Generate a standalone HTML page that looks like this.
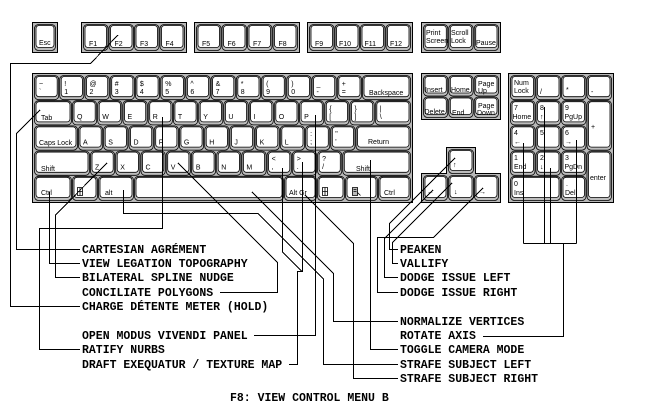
<!DOCTYPE html>
<html><head><meta charset="utf-8"><style>
html,body{margin:0;padding:0;background:#fff;}
svg{display:block}
.g{fill:#b8b8b8;stroke:#000;stroke-width:1}
.o{fill:#bdbdbd;stroke:#000;stroke-width:.8}
.i{fill:#fff;stroke:#000;stroke-width:.8}
.k{font-family:"Liberation Sans",sans-serif;font-size:7px;fill:#000}
.l{font-family:"Liberation Mono",monospace;font-weight:bold;font-size:11.5px;fill:#000}
.c{fill:none;stroke:#000;stroke-width:1}
</style></head><body>
<svg width="650" height="411" viewBox="0 0 650 411" xmlns="http://www.w3.org/2000/svg">
<rect x="0" y="0" width="650" height="411" fill="#fff"/>
<!-- group frames -->
<rect class="g" x="32.5" y="22.5" width="25" height="30"/>
<rect class="g" x="81.5" y="22.5" width="105" height="30"/>
<rect class="g" x="194.5" y="22.5" width="105" height="30"/>
<rect class="g" x="307.5" y="22.5" width="105" height="30"/>
<rect class="g" x="421.5" y="22.5" width="79" height="30"/>
<rect class="g" x="32.5" y="73.5" width="380" height="129"/>
<rect class="g" x="421.5" y="73.5" width="79" height="46"/>
<polygon class="g" points="446.5,147.5 475.5,147.5 475.5,173.5 500.5,173.5 500.5,202.5 421.5,202.5 421.5,173.5 446.5,173.5"/>
<rect class="g" x="508.5" y="73.5" width="105" height="129"/>

<!-- function row -->
<rect class="o" x="34.5" y="24.5" width="21" height="26" rx="4"/><rect class="i" x="36" y="25.5" width="18" height="22" rx="3"/>
<rect class="o" x="83.5" y="24.5" width="24.5" height="26" rx="4"/><rect class="i" x="85" y="25.5" width="21.5" height="22" rx="3"/>
<rect class="o" x="109" y="24.5" width="24.5" height="26" rx="4"/><rect class="i" x="110.5" y="25.5" width="21.5" height="22" rx="3"/>
<rect class="o" x="134.5" y="24.5" width="24.5" height="26" rx="4"/><rect class="i" x="136" y="25.5" width="21.5" height="22" rx="3"/>
<rect class="o" x="160" y="24.5" width="24.5" height="26" rx="4"/><rect class="i" x="161.5" y="25.5" width="21.5" height="22" rx="3"/>
<rect class="o" x="196.5" y="24.5" width="24.5" height="26" rx="4"/><rect class="i" x="198" y="25.5" width="21.5" height="22" rx="3"/>
<rect class="o" x="222" y="24.5" width="24.5" height="26" rx="4"/><rect class="i" x="223.5" y="25.5" width="21.5" height="22" rx="3"/>
<rect class="o" x="247.5" y="24.5" width="24.5" height="26" rx="4"/><rect class="i" x="249" y="25.5" width="21.5" height="22" rx="3"/>
<rect class="o" x="273" y="24.5" width="24.5" height="26" rx="4"/><rect class="i" x="274.5" y="25.5" width="21.5" height="22" rx="3"/>
<rect class="o" x="309.5" y="24.5" width="24.5" height="26" rx="4"/><rect class="i" x="311" y="25.5" width="21.5" height="22" rx="3"/>
<rect class="o" x="335" y="24.5" width="24.5" height="26" rx="4"/><rect class="i" x="336.5" y="25.5" width="21.5" height="22" rx="3"/>
<rect class="o" x="360.5" y="24.5" width="24.5" height="26" rx="4"/><rect class="i" x="362" y="25.5" width="21.5" height="22" rx="3"/>
<rect class="o" x="386" y="24.5" width="24.5" height="26" rx="4"/><rect class="i" x="387.5" y="25.5" width="21.5" height="22" rx="3"/>
<rect class="o" x="423.5" y="24.5" width="24.3" height="26" rx="4"/><rect class="i" x="425" y="25.5" width="21.3" height="22" rx="3"/>
<rect class="o" x="448.8" y="24.5" width="24.3" height="26" rx="4"/><rect class="i" x="450.3" y="25.5" width="21.3" height="22" rx="3"/>
<rect class="o" x="474.2" y="24.5" width="24.3" height="26" rx="4"/><rect class="i" x="475.7" y="25.5" width="21.3" height="22" rx="3"/>
<text class="k" x="39" y="45">Esc</text>
<text class="k" x="89" y="46">F1</text><text class="k" x="114.5" y="46">F2</text><text class="k" x="140" y="46">F3</text><text class="k" x="165.5" y="46">F4</text>
<text class="k" x="202" y="46">F5</text><text class="k" x="227.5" y="46">F6</text><text class="k" x="253" y="46">F7</text><text class="k" x="278.5" y="46">F8</text>
<text class="k" x="315" y="46">F9</text><text class="k" x="339" y="46">F10</text><text class="k" x="364.5" y="46">F11</text><text class="k" x="390" y="46">F12</text>
<text class="k" x="426" y="35">Print</text><text class="k" x="426" y="43">Screen</text>
<text class="k" x="451" y="35">Scroll</text><text class="k" x="451" y="43">Lock</text>
<text class="k" x="476" y="45">Pause</text>

<!-- row 1 -->
<g>
<rect class="o" x="34.5" y="75.5" width="24.2" height="24.2" rx="4"/><rect class="i" x="36" y="76.5" width="21.2" height="20.2" rx="3"/>
<rect class="o" x="59.7" y="75.5" width="24.2" height="24.2" rx="4"/><rect class="i" x="61.2" y="76.5" width="21.2" height="20.2" rx="3"/>
<rect class="o" x="85" y="75.5" width="24.2" height="24.2" rx="4"/><rect class="i" x="86.5" y="76.5" width="21.2" height="20.2" rx="3"/>
<rect class="o" x="110.2" y="75.5" width="24.2" height="24.2" rx="4"/><rect class="i" x="111.7" y="76.5" width="21.2" height="20.2" rx="3"/>
<rect class="o" x="135.4" y="75.5" width="24.2" height="24.2" rx="4"/><rect class="i" x="136.9" y="76.5" width="21.2" height="20.2" rx="3"/>
<rect class="o" x="160.7" y="75.5" width="24.2" height="24.2" rx="4"/><rect class="i" x="162.2" y="76.5" width="21.2" height="20.2" rx="3"/>
<rect class="o" x="185.9" y="75.5" width="24.2" height="24.2" rx="4"/><rect class="i" x="187.4" y="76.5" width="21.2" height="20.2" rx="3"/>
<rect class="o" x="211.1" y="75.5" width="24.2" height="24.2" rx="4"/><rect class="i" x="212.6" y="76.5" width="21.2" height="20.2" rx="3"/>
<rect class="o" x="236.3" y="75.5" width="24.2" height="24.2" rx="4"/><rect class="i" x="237.8" y="76.5" width="21.2" height="20.2" rx="3"/>
<rect class="o" x="261.6" y="75.5" width="24.2" height="24.2" rx="4"/><rect class="i" x="263.1" y="76.5" width="21.2" height="20.2" rx="3"/>
<rect class="o" x="286.8" y="75.5" width="24.2" height="24.2" rx="4"/><rect class="i" x="288.3" y="76.5" width="21.2" height="20.2" rx="3"/>
<rect class="o" x="312" y="75.5" width="24.2" height="24.2" rx="4"/><rect class="i" x="313.5" y="76.5" width="21.2" height="20.2" rx="3"/>
<rect class="o" x="337.3" y="75.5" width="24.2" height="24.2" rx="4"/><rect class="i" x="338.8" y="76.5" width="21.2" height="20.2" rx="3"/>
<rect class="o" x="362.5" y="75.5" width="48" height="24.2" rx="4"/><rect class="i" x="364" y="76.5" width="45" height="20.2" rx="3"/>
</g>
<text class="k" x="39" y="86">~</text><text class="k" x="39" y="94">`</text>
<text class="k" x="64.2" y="86">!</text><text class="k" x="64.2" y="94">1</text>
<text class="k" x="89.5" y="86">@</text><text class="k" x="89.5" y="94">2</text>
<text class="k" x="114.7" y="86">#</text><text class="k" x="114.7" y="94">3</text>
<text class="k" x="139.9" y="86">$</text><text class="k" x="139.9" y="94">4</text>
<text class="k" x="165.2" y="86">%</text><text class="k" x="165.2" y="94">5</text>
<text class="k" x="190.4" y="86">^</text><text class="k" x="190.4" y="94">6</text>
<text class="k" x="215.6" y="86">&amp;</text><text class="k" x="215.6" y="94">7</text>
<text class="k" x="240.8" y="86">*</text><text class="k" x="240.8" y="94">8</text>
<text class="k" x="266.1" y="86">(</text><text class="k" x="266.1" y="94">9</text>
<text class="k" x="291.3" y="86">)</text><text class="k" x="291.3" y="94">0</text>
<text class="k" x="316.5" y="86">_</text><text class="k" x="316.5" y="94">-</text>
<text class="k" x="341.8" y="86">+</text><text class="k" x="341.8" y="94">=</text>
<text class="k" x="369" y="95">Backspace</text>

<!-- row 2 -->
<rect class="o" x="34.5" y="100.7" width="37" height="24.2" rx="4"/><rect class="i" x="36" y="101.7" width="34" height="20.2" rx="3"/>
<rect class="o" x="72.5" y="100.7" width="24.2" height="24.2" rx="4"/><rect class="i" x="74" y="101.7" width="21.2" height="20.2" rx="3"/>
<rect class="o" x="97.7" y="100.7" width="24.2" height="24.2" rx="4"/><rect class="i" x="99.2" y="101.7" width="21.2" height="20.2" rx="3"/>
<rect class="o" x="123" y="100.7" width="24.2" height="24.2" rx="4"/><rect class="i" x="124.5" y="101.7" width="21.2" height="20.2" rx="3"/>
<rect class="o" x="148.2" y="100.7" width="24.2" height="24.2" rx="4"/><rect class="i" x="149.7" y="101.7" width="21.2" height="20.2" rx="3"/>
<rect class="o" x="173.4" y="100.7" width="24.2" height="24.2" rx="4"/><rect class="i" x="174.9" y="101.7" width="21.2" height="20.2" rx="3"/>
<rect class="o" x="198.7" y="100.7" width="24.2" height="24.2" rx="4"/><rect class="i" x="200.2" y="101.7" width="21.2" height="20.2" rx="3"/>
<rect class="o" x="223.9" y="100.7" width="24.2" height="24.2" rx="4"/><rect class="i" x="225.4" y="101.7" width="21.2" height="20.2" rx="3"/>
<rect class="o" x="249.1" y="100.7" width="24.2" height="24.2" rx="4"/><rect class="i" x="250.6" y="101.7" width="21.2" height="20.2" rx="3"/>
<rect class="o" x="274.3" y="100.7" width="24.2" height="24.2" rx="4"/><rect class="i" x="275.8" y="101.7" width="21.2" height="20.2" rx="3"/>
<rect class="o" x="299.6" y="100.7" width="24.2" height="24.2" rx="4"/><rect class="i" x="301.1" y="101.7" width="21.2" height="20.2" rx="3"/>
<rect class="o" x="324.8" y="100.7" width="24.2" height="24.2" rx="4"/><rect class="i" x="326.3" y="101.7" width="21.2" height="20.2" rx="3"/>
<rect class="o" x="350" y="100.7" width="24.2" height="24.2" rx="4"/><rect class="i" x="351.5" y="101.7" width="21.2" height="20.2" rx="3"/>
<rect class="o" x="375.3" y="100.7" width="35.2" height="24.2" rx="4"/><rect class="i" x="376.8" y="101.7" width="32.2" height="20.2" rx="3"/>
<text class="k" x="41" y="120">Tab</text>
<text class="k" x="77" y="119">Q</text><text class="k" x="102.2" y="119">W</text><text class="k" x="127.5" y="119">E</text>
<text class="k" x="152.7" y="119">R</text><text class="k" x="177.9" y="119">T</text><text class="k" x="203.2" y="119">Y</text>
<text class="k" x="228.4" y="119">U</text><text class="k" x="253.6" y="119">I</text><text class="k" x="278.8" y="119">O</text>
<text class="k" x="304.1" y="119">P</text>
<text class="k" x="329.3" y="111">{</text><text class="k" x="329.3" y="119">[</text>
<text class="k" x="354.5" y="111">}</text><text class="k" x="354.5" y="119">]</text>
<text class="k" x="379.8" y="111">|</text><text class="k" x="379.8" y="119">\</text>

<!-- row 3 -->
<rect class="o" x="34.5" y="125.9" width="43" height="24.2" rx="4"/><rect class="i" x="36" y="126.9" width="40" height="20.2" rx="3"/>
<rect class="o" x="78.5" y="125.9" width="24.2" height="24.2" rx="4"/><rect class="i" x="80" y="126.9" width="21.2" height="20.2" rx="3"/>
<rect class="o" x="103.7" y="125.9" width="24.2" height="24.2" rx="4"/><rect class="i" x="105.2" y="126.9" width="21.2" height="20.2" rx="3"/>
<rect class="o" x="129" y="125.9" width="24.2" height="24.2" rx="4"/><rect class="i" x="130.5" y="126.9" width="21.2" height="20.2" rx="3"/>
<rect class="o" x="154.2" y="125.9" width="24.2" height="24.2" rx="4"/><rect class="i" x="155.7" y="126.9" width="21.2" height="20.2" rx="3"/>
<rect class="o" x="179.4" y="125.9" width="24.2" height="24.2" rx="4"/><rect class="i" x="180.9" y="126.9" width="21.2" height="20.2" rx="3"/>
<rect class="o" x="204.7" y="125.9" width="24.2" height="24.2" rx="4"/><rect class="i" x="206.2" y="126.9" width="21.2" height="20.2" rx="3"/>
<rect class="o" x="229.9" y="125.9" width="24.2" height="24.2" rx="4"/><rect class="i" x="231.4" y="126.9" width="21.2" height="20.2" rx="3"/>
<rect class="o" x="255.1" y="125.9" width="24.2" height="24.2" rx="4"/><rect class="i" x="256.6" y="126.9" width="21.2" height="20.2" rx="3"/>
<rect class="o" x="280.3" y="125.9" width="24.2" height="24.2" rx="4"/><rect class="i" x="281.8" y="126.9" width="21.2" height="20.2" rx="3"/>
<rect class="o" x="305.6" y="125.9" width="24.2" height="24.2" rx="4"/><rect class="i" x="307.1" y="126.9" width="21.2" height="20.2" rx="3"/>
<rect class="o" x="330.8" y="125.9" width="24.2" height="24.2" rx="4"/><rect class="i" x="332.3" y="126.9" width="21.2" height="20.2" rx="3"/>
<rect class="o" x="356" y="125.9" width="54.5" height="24.2" rx="4"/><rect class="i" x="357.5" y="126.9" width="51.5" height="20.2" rx="3"/>
<text class="k" x="39" y="145">Caps Lock</text>
<text class="k" x="83" y="144.4">A</text><text class="k" x="108.2" y="144.4">S</text><text class="k" x="133.5" y="144.4">D</text>
<text class="k" x="158.7" y="144.4">F</text><text class="k" x="183.9" y="144.4">G</text><text class="k" x="209.2" y="144.4">H</text>
<text class="k" x="234.4" y="144.4">J</text><text class="k" x="259.6" y="144.4">K</text><text class="k" x="284.8" y="144.4">L</text>
<text class="k" x="310.1" y="136">:</text><text class="k" x="310.1" y="144">;</text>
<text class="k" x="335.3" y="136">"</text><text class="k" x="335.3" y="144">'</text>
<text class="k" x="368" y="144">Return</text>

<!-- row 4 -->
<rect class="o" x="34.5" y="151.1" width="55" height="24.2" rx="4"/><rect class="i" x="36" y="152.1" width="52" height="20.2" rx="3"/>
<rect class="o" x="90.5" y="151.1" width="24.2" height="24.2" rx="4"/><rect class="i" x="92" y="152.1" width="21.2" height="20.2" rx="3"/>
<rect class="o" x="115.7" y="151.1" width="24.2" height="24.2" rx="4"/><rect class="i" x="117.2" y="152.1" width="21.2" height="20.2" rx="3"/>
<rect class="o" x="141" y="151.1" width="24.2" height="24.2" rx="4"/><rect class="i" x="142.5" y="152.1" width="21.2" height="20.2" rx="3"/>
<rect class="o" x="166.2" y="151.1" width="24.2" height="24.2" rx="4"/><rect class="i" x="167.7" y="152.1" width="21.2" height="20.2" rx="3"/>
<rect class="o" x="191.4" y="151.1" width="24.2" height="24.2" rx="4"/><rect class="i" x="192.9" y="152.1" width="21.2" height="20.2" rx="3"/>
<rect class="o" x="216.7" y="151.1" width="24.2" height="24.2" rx="4"/><rect class="i" x="218.2" y="152.1" width="21.2" height="20.2" rx="3"/>
<rect class="o" x="241.9" y="151.1" width="24.2" height="24.2" rx="4"/><rect class="i" x="243.4" y="152.1" width="21.2" height="20.2" rx="3"/>
<rect class="o" x="267.1" y="151.1" width="24.2" height="24.2" rx="4"/><rect class="i" x="268.6" y="152.1" width="21.2" height="20.2" rx="3"/>
<rect class="o" x="292.3" y="151.1" width="24.2" height="24.2" rx="4"/><rect class="i" x="293.8" y="152.1" width="21.2" height="20.2" rx="3"/>
<rect class="o" x="317.6" y="151.1" width="24.2" height="24.2" rx="4"/><rect class="i" x="319.1" y="152.1" width="21.2" height="20.2" rx="3"/>
<rect class="o" x="342.8" y="151.1" width="67.7" height="24.2" rx="4"/><rect class="i" x="344.3" y="152.1" width="64.7" height="20.2" rx="3"/>
<text class="k" x="41" y="171">Shift</text>
<text class="k" x="95" y="169.6">Z</text><text class="k" x="120.2" y="169.6">X</text><text class="k" x="145.5" y="169.6">C</text>
<text class="k" x="170.7" y="169.6">V</text><text class="k" x="195.9" y="169.6">B</text><text class="k" x="221.2" y="169.6">N</text>
<text class="k" x="246.4" y="169.6">M</text>
<text class="k" x="271.6" y="161">&lt;</text><text class="k" x="271.6" y="169">,</text>
<text class="k" x="296.8" y="161">&gt;</text><text class="k" x="296.8" y="169">.</text>
<text class="k" x="322.1" y="161">?</text><text class="k" x="322.1" y="169">/</text>
<text class="k" x="356" y="171">Shift</text>

<!-- row 5 -->
<rect class="o" x="34.5" y="176.3" width="37" height="24.2" rx="4"/><rect class="i" x="36" y="177.3" width="34" height="20.2" rx="3"/>
<rect class="o" x="72.5" y="176.3" width="25" height="24.2" rx="4"/><rect class="i" x="74" y="177.3" width="22" height="20.2" rx="3"/>
<rect class="o" x="98.5" y="176.3" width="35" height="24.2" rx="4"/><rect class="i" x="100" y="177.3" width="32" height="20.2" rx="3"/>
<rect class="o" x="134.5" y="176.3" width="149" height="24.2" rx="4"/><rect class="i" x="136" y="177.3" width="146" height="20.2" rx="3"/>
<rect class="o" x="284.5" y="176.3" width="32" height="24.2" rx="4"/><rect class="i" x="286" y="177.3" width="29" height="20.2" rx="3"/>
<rect class="o" x="317.5" y="176.3" width="27" height="24.2" rx="4"/><rect class="i" x="319" y="177.3" width="24" height="20.2" rx="3"/>
<rect class="o" x="345.5" y="176.3" width="32" height="24.2" rx="4"/><rect class="i" x="347" y="177.3" width="29" height="20.2" rx="3"/>
<rect class="o" x="378.5" y="176.3" width="32" height="24.2" rx="4"/><rect class="i" x="380" y="177.3" width="29" height="20.2" rx="3"/>
<text class="k" x="41" y="195">Ctrl</text>
<path d="M77.5,187.5 h5 v8 h-5 z M77.5,191.5 h5 M80,187.5 v8" fill="#fff" stroke="#000" stroke-width=".8"/>
<text class="k" x="105" y="195">alt</text>
<text class="k" x="289" y="195">Alt Gr</text>
<path d="M322.5,187.5 h5 v8 h-5 z M322.5,191.5 h5 M325,187.5 v8" fill="#fff" stroke="#000" stroke-width=".8"/>
<path d="M352.5,187.5 h5 v8 h-5 z M353.5,189.5 h3 M353.5,191.5 h3 M357.5,192.5 l3,3" fill="#bbb" stroke="#000" stroke-width=".8"/>
<text class="k" x="384" y="195">Ctrl</text>

<!-- nav cluster -->
<rect class="o" x="423.5" y="75.5" width="24.3" height="20.5" rx="4"/><rect class="i" x="425" y="76.5" width="21.3" height="16.5" rx="3"/>
<rect class="o" x="448.8" y="75.5" width="24.3" height="20.5" rx="4"/><rect class="i" x="450.3" y="76.5" width="21.3" height="16.5" rx="3"/>
<rect class="o" x="474.2" y="75.5" width="24.3" height="20.5" rx="4"/><rect class="i" x="475.7" y="76.5" width="21.3" height="16.5" rx="3"/>
<rect class="o" x="423.5" y="97" width="24.3" height="20.5" rx="4"/><rect class="i" x="425" y="98" width="21.3" height="16.5" rx="3"/>
<rect class="o" x="448.8" y="97" width="24.3" height="20.5" rx="4"/><rect class="i" x="450.3" y="98" width="21.3" height="16.5" rx="3"/>
<rect class="o" x="474.2" y="97" width="24.3" height="20.5" rx="4"/><rect class="i" x="475.7" y="98" width="21.3" height="16.5" rx="3"/>
<text class="k" x="425" y="92">Insert</text><text class="k" x="451" y="92">Home</text>
<text class="k" x="478" y="86">Page</text><text class="k" x="478" y="93">Up</text>
<text class="k" x="424.5" y="114">Delete</text><text class="k" x="452" y="115">End</text>
<text class="k" x="478" y="108">Page</text><text class="k" x="477" y="115">Down</text>

<!-- arrows -->
<rect class="o" x="448.5" y="149.5" width="25" height="24" rx="4"/><rect class="i" x="450" y="150.5" width="22" height="20" rx="3"/>
<rect class="o" x="423.5" y="175.5" width="24" height="25" rx="4"/><rect class="i" x="425" y="176.5" width="21" height="21" rx="3"/>
<rect class="o" x="448.5" y="175.5" width="25" height="25" rx="4"/><rect class="i" x="450" y="176.5" width="22" height="21" rx="3"/>
<rect class="o" x="474.5" y="175.5" width="24" height="25" rx="4"/><rect class="i" x="476" y="176.5" width="21" height="21" rx="3"/>
<text class="k" x="453" y="167">↑</text>
<text class="k" x="427" y="194">←</text>
<text class="k" x="454" y="194">↓</text>
<text class="k" x="479" y="194">→</text>

<!-- numpad -->
<rect class="o" x="510.5" y="75.5" width="24.5" height="24.2" rx="4"/><rect class="i" x="512" y="76.5" width="21.5" height="20.2" rx="3"/>
<rect class="o" x="536" y="75.5" width="24.5" height="24.2" rx="4"/><rect class="i" x="537.5" y="76.5" width="21.5" height="20.2" rx="3"/>
<rect class="o" x="561.5" y="75.5" width="24.5" height="24.2" rx="4"/><rect class="i" x="563" y="76.5" width="21.5" height="20.2" rx="3"/>
<rect class="o" x="587" y="75.5" width="24.5" height="24.2" rx="4"/><rect class="i" x="588.5" y="76.5" width="21.5" height="20.2" rx="3"/>
<rect class="o" x="510.5" y="100.7" width="24.5" height="24.2" rx="4"/><rect class="i" x="512" y="101.7" width="21.5" height="20.2" rx="3"/>
<rect class="o" x="536" y="100.7" width="24.5" height="24.2" rx="4"/><rect class="i" x="537.5" y="101.7" width="21.5" height="20.2" rx="3"/>
<rect class="o" x="561.5" y="100.7" width="24.5" height="24.2" rx="4"/><rect class="i" x="563" y="101.7" width="21.5" height="20.2" rx="3"/>
<rect class="o" x="587" y="100.7" width="24.5" height="49.4" rx="4"/><rect class="i" x="588.5" y="101.7" width="21.5" height="45.4" rx="3"/>
<rect class="o" x="510.5" y="125.9" width="24.5" height="24.2" rx="4"/><rect class="i" x="512" y="126.9" width="21.5" height="20.2" rx="3"/>
<rect class="o" x="536" y="125.9" width="24.5" height="24.2" rx="4"/><rect class="i" x="537.5" y="126.9" width="21.5" height="20.2" rx="3"/>
<rect class="o" x="561.5" y="125.9" width="24.5" height="24.2" rx="4"/><rect class="i" x="563" y="126.9" width="21.5" height="20.2" rx="3"/>
<rect class="o" x="510.5" y="151.1" width="24.5" height="24.2" rx="4"/><rect class="i" x="512" y="152.1" width="21.5" height="20.2" rx="3"/>
<rect class="o" x="536" y="151.1" width="24.5" height="24.2" rx="4"/><rect class="i" x="537.5" y="152.1" width="21.5" height="20.2" rx="3"/>
<rect class="o" x="561.5" y="151.1" width="24.5" height="24.2" rx="4"/><rect class="i" x="563" y="152.1" width="21.5" height="20.2" rx="3"/>
<rect class="o" x="587" y="151.1" width="24.5" height="49.4" rx="4"/><rect class="i" x="588.5" y="152.1" width="21.5" height="45.4" rx="3"/>
<rect class="o" x="510.5" y="176.3" width="50" height="24.2" rx="4"/><rect class="i" x="512" y="177.3" width="47" height="20.2" rx="3"/>
<rect class="o" x="561.5" y="176.3" width="24.5" height="24.2" rx="4"/><rect class="i" x="563" y="177.3" width="21.5" height="20.2" rx="3"/>
<text class="k" x="514" y="85">Num</text><text class="k" x="514" y="93">Lock</text>
<text class="k" x="540" y="94">/</text><text class="k" x="566" y="92">*</text><text class="k" x="591" y="94">-</text>
<text class="k" x="514" y="110">7</text><text class="k" x="512.5" y="119">Home</text>
<text class="k" x="540" y="110">8</text><text class="k" x="540" y="119">↑</text>
<text class="k" x="565" y="110">9</text><text class="k" x="564.5" y="119">PgUp</text>
<text class="k" x="591" y="129">+</text>
<text class="k" x="514" y="135">4</text><text class="k" x="514" y="144">←</text>
<text class="k" x="540" y="135">5</text>
<text class="k" x="565" y="135">6</text><text class="k" x="565" y="144">→</text>
<text class="k" x="514" y="160">1</text><text class="k" x="514" y="169">End</text>
<text class="k" x="540" y="160">2</text><text class="k" x="540" y="169">↓</text>
<text class="k" x="565" y="160">3</text><text class="k" x="564.5" y="169">PgDn</text>
<text class="k" x="590" y="180">enter</text>
<text class="k" x="514" y="186">0</text><text class="k" x="514" y="195">Ins</text>
<text class="k" x="566" y="186">.</text><text class="k" x="565" y="195">Del</text>

<!-- connectors -->
<g class="c" shape-rendering="crispEdges">
<polyline points="118,35 90.5,63.5 10.5,63.5 10.5,306.5 80,306.5"/>
<polyline points="40,110 16.5,133.5 16.5,249.5 80,249.5"/>
<polyline points="49.5,192 49.5,263.5 80,263.5"/>
<polyline points="107,163 55.5,215 55.5,277.5 80,277.5"/>
<polyline points="162.5,117 162.5,228.5 39.5,228.5 39.5,349.5 80,349.5"/>
<polyline points="178,163 277.5,262.5 277.5,292.5 220,292.5"/>
<polyline points="315.5,115 315.5,335.5 254,335.5"/>
<polyline points="282.5,168 282.5,252 302,271.5"/>
<polyline points="302.5,162 302.5,271.5 297.5,271.5 297.5,364.5 289,364.5"/>
<polyline points="252,192 333.5,273.5 333.5,321.5 398,321.5"/>
<polyline points="123.5,190 123.5,213.5 258,213.5 323.5,279 323.5,364.5 398,364.5"/>
<polyline points="305,195 353.5,243.5 353.5,378.5 398,378.5"/>
<polyline points="370.5,160 370.5,349.5 398,349.5"/>
<polyline points="455,158 389.5,223.5 389.5,249.5 398,249.5"/>
<polyline points="452,183 392.5,242.5 392.5,263.5 398,263.5"/>
<polyline points="433,190 384.5,238.5 384.5,277.5 398,277.5"/>
<polyline points="483,188 433.5,237.5 377.5,237.5 377.5,292.5 398,292.5"/>
<polyline points="523.5,143 523.5,243.5"/>
<polyline points="544.5,107 544.5,243.5"/>
<polyline points="550.5,168 550.5,243.5"/>
<polyline points="576.5,140 576.5,243.5"/>
<polyline points="523.5,243.5 576.5,243.5"/>
<polyline points="563.5,243.5 563.5,336.5 483,336.5"/>
</g>

<!-- labels -->
<text class="l" x="82" y="253">CARTESIAN AGRÉMENT</text>
<text class="l" x="82" y="267">VIEW LEGATION TOPOGRAPHY</text>
<text class="l" x="82" y="281">BILATERAL SPLINE NUDGE</text>
<text class="l" x="82" y="296">CONCILIATE POLYGONS</text>
<text class="l" x="82" y="310">CHARGE DÉTENTE METER (HOLD)</text>
<text class="l" x="82" y="339">OPEN MODUS VIVENDI PANEL</text>
<text class="l" x="82" y="353">RATIFY NURBS</text>
<text class="l" x="82" y="368">DRAFT EXEQUATUR / TEXTURE MAP</text>
<text class="l" x="400" y="253">PEAKEN</text>
<text class="l" x="400" y="267">VALLIFY</text>
<text class="l" x="400" y="281">DODGE ISSUE LEFT</text>
<text class="l" x="400" y="296">DODGE ISSUE RIGHT</text>
<text class="l" x="400" y="325">NORMALIZE VERTICES</text>
<text class="l" x="400" y="339">ROTATE AXIS</text>
<text class="l" x="400" y="353">TOGGLE CAMERA MODE</text>
<text class="l" x="400" y="368">STRAFE SUBJECT LEFT</text>
<text class="l" x="400" y="382">STRAFE SUBJECT RIGHT</text>
<text class="l" x="230" y="401">F8: VIEW CONTROL MENU B</text>
</svg>
</body></html>
